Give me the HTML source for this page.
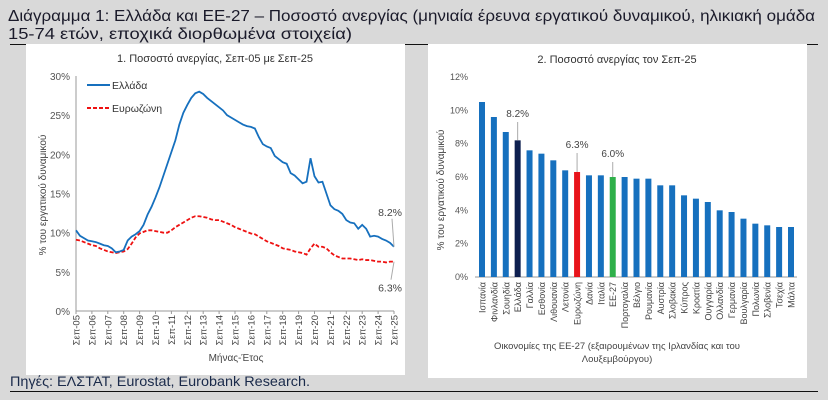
<!DOCTYPE html>
<html><head><meta charset="utf-8"><style>
body{margin:0;width:828px;height:400px;background:#d9d9d9;overflow:hidden;font-family:"Liberation Sans",sans-serif}
svg{position:absolute;left:0;top:0}
</style></head><body>
<svg width="828" height="400" font-family="Liberation Sans, sans-serif">
<text x="8" y="21" font-size="16" fill="#1a1a2a" textLength="807" lengthAdjust="spacingAndGlyphs">Διάγραμμα 1: Ελλάδα και ΕΕ-27 – Ποσοστό ανεργίας (μηνιαία έρευνα εργατικού δυναμικού, ηλικιακή ομάδα</text>
<text x="8" y="39" font-size="16" fill="#1a1a2a" textLength="344" lengthAdjust="spacingAndGlyphs">15-74 ετών, εποχικά διορθωμένα στοιχεία)</text>
<line x1="10" y1="44.5" x2="818" y2="44.5" stroke="#111"/>
<rect x="26" y="44" width="379" height="331" fill="#fff"/>
<rect x="428" y="44" width="379" height="334" fill="#fff"/>
<text x="10" y="386" font-size="14" fill="#1a2a4a" textLength="300" lengthAdjust="spacingAndGlyphs">Πηγές: ΕΛΣΤΑΤ, Eurostat, Eurobank Research.</text>
<line x1="10" y1="391.5" x2="818" y2="391.5" stroke="#111"/>
<g id="left"></g><g id="right"></g>
</svg>
<script>
const NS='http://www.w3.org/2000/svg';
function mk(p,t,a,txt){const e=document.createElementNS(NS,t);for(const k in a)e.setAttribute(k,a[k]);if(txt!==undefined)e.textContent=txt;p.appendChild(e);return e;}
// ---- Chart 1 data (quarterly, Sep-05 .. Sep-25) ----
const greece=[10.3,9.6,
9.3,9.0,8.9,8.8, 8.6,8.4,8.3,8.0, 7.5,7.6,7.8,9.0, 9.5,9.8,10.2,11.0,
12.3,13.3,14.5,15.8, 17.3,18.8,20.3,21.8, 23.8,25.3,26.3,27.2, 27.8,28.0,27.7,27.2,
26.8,26.4,26.0,25.6, 25.0,24.7,24.4,24.1, 23.8,23.6,23.5,23.3, 22.2,21.3,21.0,20.8,
19.8,19.4,19.0,18.8, 17.6,17.3,16.8,16.3, 16.5,19.5,17.2,16.4, 16.5,15.0,13.5,13.0,
12.8,12.4,11.6,11.3, 11.2,10.5,11.0,10.5, 9.5,9.6,9.5,9.2, 9.0,8.7,8.2];
const eurozone=[9.1,9.0,
8.8,8.6,8.4,8.3, 8.0,7.8,7.6,7.5, 7.4,7.5,7.6,7.9, 8.6,9.4,9.9,10.1,
10.3,10.3,10.2,10.1, 10.0,10.0,10.3,10.7, 11.0,11.3,11.6,11.9, 12.1,12.1,12.0,11.9,
11.7,11.6,11.6,11.4, 11.2,11.0,10.7,10.5, 10.3,10.1,9.9,9.8, 9.5,9.2,8.9,8.7,
8.5,8.3,8.0,7.9, 7.8,7.6,7.5,7.4, 7.2,8.0,8.6,8.2, 8.2,8.0,7.5,7.1,
6.9,6.7,6.7,6.7, 6.6,6.5,6.6,6.5, 6.5,6.4,6.3,6.3, 6.2,6.3,6.3];
const xTicks1=['Σεπ-05','Σεπ-06','Σεπ-07','Σεπ-08','Σεπ-09','Σεπ-10','Σεπ-11','Σεπ-12','Σεπ-13','Σεπ-14','Σεπ-15','Σεπ-16','Σεπ-17','Σεπ-18','Σεπ-19','Σεπ-20','Σεπ-21','Σεπ-22','Σεπ-23','Σεπ-24','Σεπ-25'];
const yTicks1=[0,5,10,15,20,25,30];
// ---- Chart 2 data ----
const countries=['Ισπανία','Φινλανδία','Σουηδία','Ελλάδα','Γαλλία','Εσθονία','Λιθουανία','Λετονία','Ευρωζώνη','Δανία','Ιταλία','ΕΕ-27','Πορτογαλία','Βέλγιο','Ρουμανία','Αυστρία','Σλοβακία','Κύπρος','Κροατία','Ουγγαρία','Ολλανδία','Γερμανία','Βουλγαρία','Πολωνία','Σλοβενία','Τσεχία','Μάλτα'];
const rates=[10.5,9.6,8.7,8.2,7.6,7.4,7.0,6.4,6.3,6.1,6.1,6.0,6.0,5.9,5.9,5.5,5.5,4.9,4.7,4.5,4.0,3.9,3.5,3.2,3.1,3.0,3.0];
const yTicks2=[0,2,4,6,8,10,12];

// ===== Chart 1 =====
(function(){
const g=document.getElementById('left');
const X0=76,X1=394,Y0=311,Y30=76;
const xs=i=>X0+(X1-X0)*i/(greece.length-1);
const ys=v=>Y0-(Y0-Y30)*v/30;
let t=mk(g,'text',{x:215,y:62,'font-size':11,'text-anchor':'middle',fill:'#333'},'1. Ποσοστό ανεργίας, Σεπ-05 με Σεπ-25');

yTicks1.forEach(v=>{const e=mk(g,'text',{x:70,y:ys(v)+4,'font-size':10,'text-anchor':'end',fill:'#555'},v+'%');
});
let ax=mk(g,'line',{x1:X0,y1:Y30,x2:X0,y2:Y0,stroke:'#999'});

ax=mk(g,'line',{x1:X0,y1:Y0,x2:X1,y2:Y0,stroke:'#999'});

xTicks1.forEach((s,i)=>{const x=X0+(X1-X0)*i/(xTicks1.length-1);
const tk=mk(g,'line',{x1:x,y1:Y0,x2:x,y2:Y0+3,stroke:'#999'});

const e=mk(g,'text',{x:0,y:0,'font-size':9.5,'text-anchor':'end',fill:'#444',transform:`translate(${x+3.5},${Y0+4}) rotate(-90)`},s);
});
t=mk(g,'text',{x:0,y:0,'font-size':10,'text-anchor':'middle',fill:'#444',transform:'translate(46,195) rotate(-90)'},'% του εργατικού δυναμικού');

t=mk(g,'text',{x:236,y:361,'font-size':10,'text-anchor':'middle',fill:'#444'},'Μήνας-Έτος');

const pe=mk(g,'polyline',{points:eurozone.map((v,i)=>xs(i)+','+ys(v)).join(' '),fill:'none',stroke:'#ee1111','stroke-width':1.8,'stroke-dasharray':'4,2'});

const pg=mk(g,'polyline',{points:greece.map((v,i)=>xs(i)+','+ys(v)).join(' '),fill:'none',stroke:'#1670be','stroke-width':1.8});

let l=mk(g,'line',{x1:87,y1:85,x2:110,y2:85,stroke:'#1670be','stroke-width':2});

t=mk(g,'text',{x:112,y:89,'font-size':10.5,fill:'#333'},'Ελλάδα');

l=mk(g,'line',{x1:87,y1:108,x2:110,y2:108,stroke:'#ee1111','stroke-width':2,'stroke-dasharray':'4,2'});

t=mk(g,'text',{x:112,y:112,'font-size':10.5,fill:'#333'},'Ευρωζώνη');

const gl=greece[greece.length-1],el=eurozone[eurozone.length-1];
l=mk(g,'line',{x1:X1,y1:ys(gl),x2:X1-2,y2:ys(gl)-28,stroke:'#aaa'});

t=mk(g,'text',{x:402,y:ys(gl)-31,'font-size':10.5,'text-anchor':'end',fill:'#444'},gl.toFixed(1)+'%');

l=mk(g,'line',{x1:X1,y1:ys(el),x2:X1-3,y2:ys(el)+18,stroke:'#aaa'});

t=mk(g,'text',{x:402,y:ys(el)+30,'font-size':10.5,'text-anchor':'end',fill:'#444'},el.toFixed(1)+'%');

})();

// ===== Chart 2 =====
(function(){
const g=document.getElementById('right');
const Y0=277,Y12=77,XA=475,XB=797,C0=482,C1=791;
const ys=v=>Y0-(Y0-Y12)*v/12;
const xc=i=>C0+(C1-C0)*i/(countries.length-1);
let t=mk(g,'text',{x:617,y:63,'font-size':11,'text-anchor':'middle',fill:'#333'},'2. Ποσοστό ανεργίας τον Σεπ-25');

yTicks2.forEach(v=>{const e=mk(g,'text',{x:468,y:ys(v)+3,'font-size':9,'text-anchor':'end',fill:'#555'},v+'%');
});
let ax=mk(g,'line',{x1:XA,y1:Y0,x2:XB,y2:Y0,stroke:'#999'});

t=mk(g,'text',{x:0,y:0,'font-size':10,'text-anchor':'middle',fill:'#444',transform:'translate(444,190) rotate(-90)'},'% του εργατικού δυναμικού');

countries.forEach((c,i)=>{
 const col=c==='Ελλάδα'?'#0d1f4f':c==='Ευρωζώνη'?'#e8141b':c==='ΕΕ-27'?'#2fb04a':'#1670be';
 const b=mk(g,'rect',{x:xc(i)-3,y:ys(rates[i]),width:6,height:Y0-ys(rates[i]),fill:col});
 
 const e=mk(g,'text',{x:0,y:0,'font-size':9,'text-anchor':'end',fill:'#444',transform:`translate(${xc(i)+3.5},${Y0+5}) rotate(-90)`},c);
 
 if(c==='Ελλάδα'||c==='Ευρωζώνη'||c==='ΕΕ-27'){
  const ly=c==='Ελλάδα'?119:c==='Ευρωζώνη'?150:159;
  const l=mk(g,'line',{x1:xc(i),y1:ly+3,x2:xc(i),y2:ys(rates[i]),stroke:'#aaa'});
  
  const a=mk(g,'text',{x:xc(i),y:ly-2,'font-size':10,'text-anchor':'middle',fill:'#444'},rates[i].toFixed(1)+'%');
  
 }
});
t=mk(g,'text',{x:617,y:349,'font-size':9.5,'text-anchor':'middle',fill:'#444'},'Οικονομίες της ΕΕ-27 (εξαιρουμένων της Ιρλανδίας και του');

t=mk(g,'text',{x:617,y:362,'font-size':9.5,'text-anchor':'middle',fill:'#444'},'Λουξεμβούργου)');

})();
</script>
</body></html>
